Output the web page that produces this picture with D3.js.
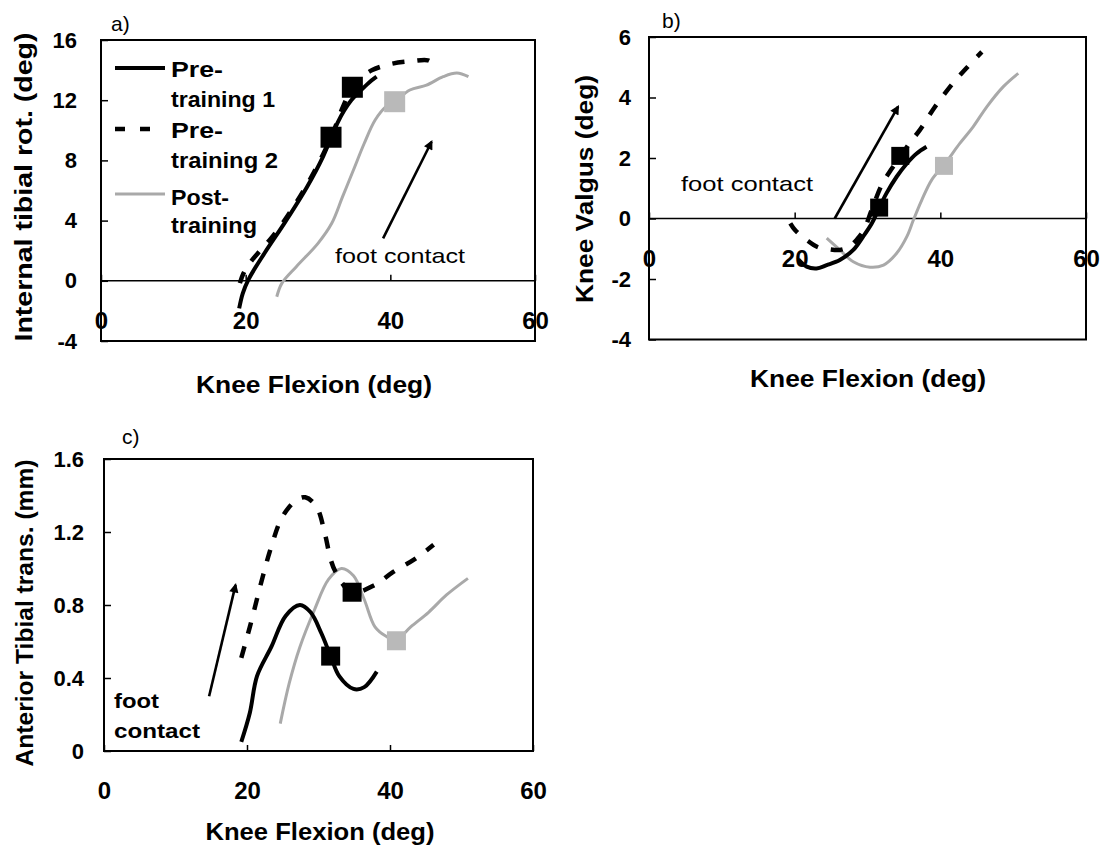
<!DOCTYPE html>
<html><head><meta charset="utf-8">
<script src="https://cdn.jsdelivr.net/npm/d3@7"></script>
<style>
body{margin:0;background:#fff;}
svg{display:block;}
</style></head><body>
<svg id="chart" width="1105" height="852"></svg>
<script>
// ---------- DATA ----------
const flexionTicks = [0, 20, 40, 60];
const seriesNames = ["Pre-training 1", "Pre-training 2", "Post-training"];
const legendLines = [["Pre-", "training 1"], ["Pre-", "training 2"], ["Post-", "training"]];

// a) Internal tibial rotation (deg) vs knee flexion (deg)
const rotTicks = [-4, 0, 4, 8, 12, 16];
const rotTickLabels = ["-4", "0", "4", "8", "12", "16"];
const rotPre1 = [[19.1,-1.83],[19.6,-0.83],[20.35,0.05],[22.6,1.83],[25.5,3.93],[28.5,6.25],[30.7,8.25],[31.8,9.5],[32.7,10.5],[33.6,11.3],[34.6,12.0],[35.8,12.6],[37.0,13.15],[38.1,13.56]];
const rotPre2 = [[19.2,-0.15],[19.7,0.5],[20.6,1.2],[22.0,2.0],[23.3,2.7],[25.5,4.1],[28.5,6.4],[30.7,8.4],[32.2,10.0],[33.4,11.5],[34.7,12.8],[36.0,13.5],[37.5,14.0],[40.0,14.4],[43.0,14.6],[45.2,14.65],[46.0,14.4]];
const rotPost = [[24.3,-1.06],[25.0,-0.17],[27.0,0.94],[30.0,2.49],[31.9,3.82],[33.4,5.59],[34.9,7.36],[36.4,9.14],[37.9,10.68],[39.4,11.57],[40.6,11.9],[42.7,12.68],[45.0,13.0],[47.3,13.56],[49.2,13.8],[50.8,13.56]];
const rotMarkers = [[31.8,9.54,0],[34.75,12.86,1],[40.6,11.9,2]];
const rotArrow = [[39.0,2.82],[45.7,9.24]];

// b) Knee valgus (deg)
const valTicks = [-4, -2, 0, 2, 4, 6];
const valTickLabels = ["-4", "-2", "0", "2", "4", "6"];
const valPre1 = [[20.5,-1.35],[21.65,-1.59],[23.0,-1.65],[24.4,-1.54],[26.2,-1.37],[28.05,-1.04],[29.4,-0.6],[30.6,-0.16],[31.5,0.3],[32.6,0.83],[34.0,1.38],[35.4,1.82],[36.75,2.15],[38.1,2.37]];
const valPre2 = [[19.4,-0.16],[20.05,-0.38],[21.65,-0.71],[23.2,-0.95],[24.75,-1.02],[26.2,-1.04],[27.5,-0.93],[28.6,-0.68],[29.5,-0.38],[30.6,0.3],[31.95,1.11],[33.2,1.6],[34.5,2.04],[35.8,2.5],[37.2,2.93],[39.2,3.67],[41.65,4.45],[43.5,4.95],[45.7,5.51]];
const valPost = [[24.4,-0.65],[26.2,-1.04],[28.05,-1.43],[30.35,-1.61],[32.2,-1.54],[34.0,-1.15],[35.4,-0.6],[36.3,-0.05],[37.45,0.61],[38.8,1.27],[40.5,1.77],[42.7,2.49],[44.5,3.03],[46.4,3.7],[48.65,4.36],[50.7,4.8]];
const valMarkers = [[31.6,0.36,0],[34.5,2.07,1],[40.5,1.74,2]];
const valArrow = [[25.5,0.0],[34.2,3.7]];

// c) Anterior tibial translation (mm)
const transTicks = [0, 0.4, 0.8, 1.2, 1.6];
const transTickLabels = ["0", "0.4", "0.8", "1.2", "1.6"];
const transPre1 = [[19.2,0.05],[20.4,0.21],[21.4,0.41],[23.4,0.57],[25.4,0.74],[27.4,0.80],[28.9,0.76],[30.4,0.645],[31.7,0.52],[32.9,0.41],[34.9,0.34],[36.4,0.35],[38.15,0.435]];
const transPre2 = [[19.2,0.51],[20.4,0.68],[22.2,0.955],[23.4,1.12],[24.9,1.28],[26.9,1.375],[28.15,1.39],[29.7,1.34],[30.9,1.19],[31.7,1.05],[32.4,0.98],[34.65,0.87],[37.9,0.91],[40.4,0.98],[43.4,1.05],[46.1,1.13]];
const transPost = [[24.65,0.15],[25.9,0.37],[27.4,0.57],[29.4,0.77],[31.4,0.94],[33.2,1.0],[34.9,0.96],[36.4,0.83],[37.9,0.68],[39.4,0.63],[40.9,0.61],[42.9,0.68],[45.4,0.76],[47.9,0.855],[50.9,0.946]];
const transMarkers = [[31.7,0.52,0],[34.7,0.87,1],[40.9,0.604,2]];
const transArrow = [[14.7,0.30],[18.4,0.91]];

// ---------- STYLE / LAYOUT ----------
const FONT = "'Liberation Sans', Arial, sans-serif";
const styles = [
  {stroke:"#000", width:4, dash:null},
  {stroke:"#000", width:4.5, dash:"12,13"},
  {stroke:"#a9a9a9", width:3, dash:null}
];
const markerFill = ["#000", "#000", "#b9b9b9"];

const svg = d3.select("#chart");
const defs = svg.append("defs");
defs.append("marker").attr("id","arrowhead").attr("viewBox","0 0 10 10")
  .attr("refX",8).attr("refY",5).attr("markerWidth",4.2).attr("markerHeight",3.6)
  .attr("markerUnits","strokeWidth").attr("orient","auto")
  .append("path").attr("d","M0,0L10,5L0,10z").attr("fill","#000");

const panels = [
  {label:"a)", labelPos:[111,31], l:101, r:535, t:40, b:341, yDomain:[-4,16],
   yTicks:rotTicks, yLabels:rotTickLabels, yPad:24, series:[rotPre1, rotPre2, rotPost],
   markers:rotMarkers, msize:21, arrow:rotArrow,
   yTitle:"Internal tibial rot. (deg)", yTitlePos:[24,187], yTitleLen:309,
   xTitlePos:[314,393], xTitleLen:236,
   foot:[{t:"foot contact", x:335, y:263, len:130, bold:false}]},
  {label:"b)", labelPos:[662,28], l:649, r:1086, t:37, b:339.5, yDomain:[-4,6],
   yTicks:valTicks, yLabels:valTickLabels, yPad:18, series:[valPre1, valPre2, valPost],
   markers:valMarkers, msize:18, arrow:valArrow,
   yTitle:"Knee Valgus (deg)", yTitlePos:[585,189], yTitleLen:228,
   xTitlePos:[868,387], xTitleLen:236,
   foot:[{t:"foot contact", x:681, y:191, len:132, bold:false}]},
  {label:"c)", labelPos:[122,444], l:104, r:533, t:459, b:751, yDomain:[0,1.6],
   yTicks:transTicks, yLabels:transTickLabels, yPad:20, series:[transPre1, transPre2, transPost],
   markers:transMarkers, msize:19, arrow:transArrow,
   yTitle:"Anterior Tibial trans. (mm)", yTitlePos:[25,613], yTitleLen:307,
   xTitlePos:[320,840], xTitleLen:229,
   foot:[{t:"foot", x:114, y:708, len:45, bold:true},{t:"contact", x:114, y:738, len:86, bold:true}]}
];

function drawPanel(p) {
  const g = svg.append("g");
  const x = d3.scaleLinear().domain([0,60]).range([p.l, p.r]);
  const y = d3.scaleLinear().domain(p.yDomain).range([p.b, p.t]);

  // frame
  g.append("rect").attr("x",p.l).attr("y",p.t).attr("width",p.r-p.l).attr("height",p.b-p.t)
    .attr("fill","none").attr("stroke","#000").attr("stroke-width",2);

  // zero line
  if (p.yDomain[0] < 0) {
    g.append("line").attr("x1",p.l).attr("x2",p.r).attr("y1",y(0)).attr("y2",y(0))
      .attr("stroke","#000").attr("stroke-width",1.5);
  }

  // y axis
  const yAxis = d3.axisLeft(y).tickValues(p.yTicks).tickFormat((d,i)=>p.yLabels[i])
    .tickSizeInner(-7).tickSizeOuter(0).tickPadding(p.yPad);
  const ya = g.append("g").attr("transform",`translate(${p.l},0)`).call(yAxis);
  ya.select(".domain").remove();
  ya.attr("font-family",FONT).attr("font-size",22).attr("font-weight","bold");
  ya.selectAll("line").attr("stroke-width",1.5);

  // x axis (on zero line)
  const xAxis = d3.axisBottom(x).tickValues(flexionTicks).tickSizeInner(-6).tickSizeOuter(0).tickPadding(31);
  const xa = g.append("g").attr("transform",`translate(0,${y(0)})`).call(xAxis);
  xa.select(".domain").remove();
  xa.attr("font-family",FONT).attr("font-size",24).attr("font-weight","bold");
  xa.selectAll("line").attr("stroke-width",1.5);

  // series lines (gray first, dashed, solid on top)
  const line = d3.line().x(d=>x(d[0])).y(d=>y(d[1])).curve(d3.curveCatmullRom.alpha(0.5));
  [2,1,0].forEach(i => {
    const s = styles[i];
    g.append("path").datum(p.series[i]).attr("d",line)
      .attr("fill","none").attr("stroke",s.stroke).attr("stroke-width",s.width)
      .attr("stroke-dasharray",s.dash).attr("stroke-linecap","butt").attr("stroke-linejoin","round");
  });

  // markers
  g.selectAll("rect.mk").data(p.markers).join("rect").attr("class","mk")
    .attr("x",d=>x(d[0])-p.msize/2).attr("y",d=>y(d[1])-p.msize/2)
    .attr("width",p.msize).attr("height",p.msize)
    .attr("fill",d=>markerFill[d[2]]);

  // foot contact arrow
  g.append("line").attr("x1",x(p.arrow[0][0])).attr("y1",y(p.arrow[0][1]))
    .attr("x2",x(p.arrow[1][0])).attr("y2",y(p.arrow[1][1]))
    .attr("stroke","#000").attr("stroke-width",2.6).attr("marker-end","url(#arrowhead)");

  p.foot.forEach(f => {
    g.append("text").attr("x",f.x).attr("y",f.y).text(f.t)
      .attr("font-family",FONT).attr("font-size",f.bold?20:21).attr("font-weight",f.bold?"bold":"normal")
      .attr("textLength",f.len).attr("lengthAdjust","spacingAndGlyphs");
  });

  // titles
  g.append("text").attr("transform",`translate(${p.yTitlePos[0]},${p.yTitlePos[1]}) rotate(-90)`)
    .attr("text-anchor","middle").attr("dy","0.35em").text(p.yTitle)
    .attr("font-family",FONT).attr("font-size",23).attr("font-weight","bold")
    .attr("textLength",p.yTitleLen).attr("lengthAdjust","spacingAndGlyphs");
  g.append("text").attr("x",p.xTitlePos[0]).attr("y",p.xTitlePos[1])
    .attr("text-anchor","middle").text("Knee Flexion (deg)")
    .attr("font-family",FONT).attr("font-size",23).attr("font-weight","bold")
    .attr("textLength",p.xTitleLen).attr("lengthAdjust","spacingAndGlyphs");
  g.append("text").attr("x",p.labelPos[0]).attr("y",p.labelPos[1]).text(p.label)
    .attr("font-family",FONT).attr("font-size",21);
}

panels.forEach(drawPanel);

// legend (panel a)
const legendY = [68, 129, 194];
const legendText = [[77,107],[138,168],[205,233]];
const legendLen = [[52,104],[52,107],[58,86]];
seriesNames.forEach((name, i) => {
  const s = styles[i];
  svg.append("line").attr("x1",115).attr("x2",165).attr("y1",legendY[i]).attr("y2",legendY[i])
    .attr("stroke",s.stroke).attr("stroke-width",s.width).attr("stroke-dasharray",s.dash ? "10,15" : null);
  legendLines[i].forEach((t, j) => {
    svg.append("text").attr("x",171).attr("y",legendText[i][j]).text(t)
      .attr("font-family",FONT).attr("font-size",22).attr("font-weight","bold")
      .attr("textLength",legendLen[i][j]).attr("lengthAdjust","spacingAndGlyphs");
  });
});
</script>
</body></html>
